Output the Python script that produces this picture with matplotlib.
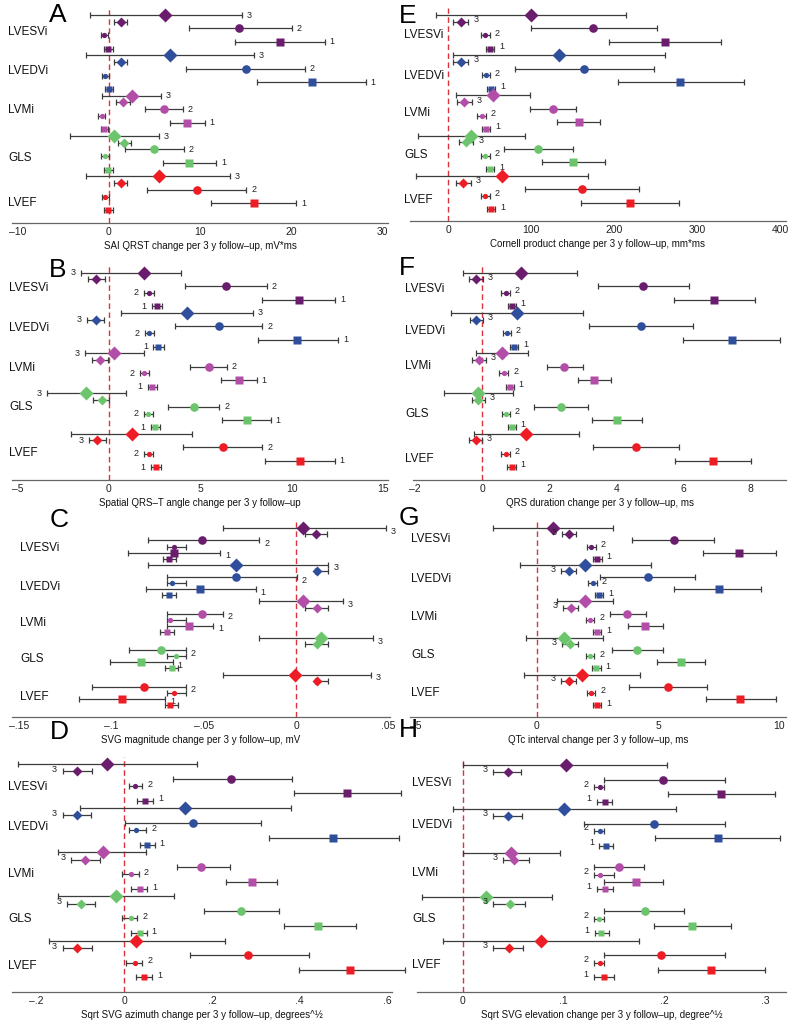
import matplotlib
matplotlib.use('Agg')
import matplotlib.pyplot as plt
from matplotlib.transforms import blended_transform_factory

plt.rcParams['font.family'] = ['Liberation Sans', 'DejaVu Sans']

# rows in each group: big 3, small 3, big 2, small 2, big 1, small 1
groups = ['LVESVi', 'LVEDVi', 'LVMi', 'GLS', 'LVEF']
group_colors = ['#6a1d6c', '#2f4e9c', '#b24ea8', '#6cc46c', '#ee1c25']
quintiles = [3, 3, 2, 2, 1, 1]

# A: SAI QRST
A_est = [6.2, 1.3, 14.3, -0.5, 18.8, -0.1,
         6.7, 1.3, 15.1, -0.4, 22.3, 0.0,
         2.5, 1.6, 6.0, -0.8, 8.6, -0.5,
         0.6, 1.7, 5.0, -0.45, 8.8, -0.1,
         5.5, 1.3, 9.7, -0.4, 15.9, -0.1]
A_lo = [-2.1, 0.6, 8.8, -0.9, 13.8, -0.5,
        -2.5, 0.6, 8.5, -0.8, 16.3, -0.4,
        -0.8, 0.8, 4.0, -1.2, 6.7, -0.9,
        -4.3, 0.95, 1.8, -0.9, 5.9, -0.5,
        -2.5, 0.6, 4.2, -0.8, 11.2, -0.5]
A_hi = [14.6, 2.0, 20.1, -0.1, 23.7, 0.4,
        15.9, 2.0, 21.5, 0.0, 28.2, 0.4,
        5.7, 2.3, 8.1, -0.4, 10.5, -0.1,
        5.5, 2.4, 8.2, 0.0, 11.8, 0.4,
        13.3, 2.0, 15.1, 0.0, 20.6, 0.4]

# B: spatial QRS-T angle
B_est = [1.94, -0.68, 6.41, 2.2, 10.4, 2.62,
         4.29, -0.71, 6.0, 2.22, 10.3, 2.71,
         0.29, -0.49, 5.46, 1.94, 7.1, 2.36,
         -1.26, -0.4, 4.63, 2.16, 7.56, 2.53,
         1.25, -0.64, 6.23, 2.18, 10.46, 2.56]
B_lo = [-1.5, -1.14, 4.18, 1.92, 8.39, 2.34,
        0.66, -1.19, 3.63, 1.96, 8.15, 2.44,
        -1.28, -0.95, 4.45, 1.7, 6.15, 2.12,
        -3.39, -0.86, 3.26, 1.92, 6.19, 2.29,
        -2.05, -1.1, 4.05, 1.92, 8.53, 2.29]
B_hi = [3.92, -0.22, 8.63, 2.47, 12.38, 2.89,
        7.88, -0.24, 8.39, 2.49, 12.55, 2.99,
        1.92, -0.04, 6.47, 2.22, 8.08, 2.62,
        0.92, 0.02, 6.04, 2.44, 8.85, 2.8,
        4.54, -0.18, 8.39, 2.44, 12.36, 2.84]

# C: SVG magnitude
C_est = [0.0036, 0.0108, -0.0511, -0.066, -0.066, -0.0688,
         -0.0327, 0.0116, -0.0325, -0.067, -0.052, -0.0688,
         0.004, 0.0116, -0.0511, -0.0682, -0.058, -0.07,
         0.0135, 0.0116, -0.0731, -0.065, -0.0839, -0.067,
         -0.0005, 0.0116, -0.0821, -0.066, -0.094, -0.0682]
C_lo = [-0.0397, 0.0049, -0.08, -0.07, -0.091, -0.0718,
        -0.08, 0.0103, -0.07, -0.07, -0.081, -0.0727,
        -0.0199, 0.0049, -0.07, -0.07, -0.07, -0.0736,
        -0.0199, 0.0049, -0.0903, -0.07, -0.101, -0.071,
        -0.0397, 0.0103, -0.1103, -0.07, -0.1173, -0.071]
C_hi = [0.0487, 0.017, -0.0199, -0.0597, -0.041, -0.0652,
        0.0175, 0.0175, 0.0004, -0.0597, -0.0217, -0.0652,
        0.0256, 0.0175, -0.0397, -0.0597, -0.0448, -0.066,
        0.0415, 0.0175, -0.0597, -0.0597, -0.0668, -0.0637,
        0.0404, 0.0175, -0.0597, -0.0597, -0.0709, -0.0637]

# D: sqrt SVG azimuth
D_est = [-0.039, -0.106, 0.244, 0.024, 0.507, 0.047,
         0.139, -0.108, 0.158, 0.028, 0.475, 0.053,
         -0.048, -0.088, 0.176, 0.017, 0.291, 0.036,
         -0.019, -0.099, 0.267, 0.017, 0.442, 0.036,
         0.028, -0.107, 0.282, 0.024, 0.515, 0.045]
D_lo = [-0.242, -0.140, 0.111, 0.011, 0.386, 0.030,
        -0.101, -0.140, 0.003, 0.011, 0.329, 0.036,
        -0.150, -0.120, 0.121, -0.004, 0.231, 0.017,
        -0.150, -0.129, 0.181, -0.004, 0.365, 0.017,
        -0.170, -0.140, 0.151, 0.005, 0.398, 0.028]
D_hi = [0.165, -0.073, 0.382, 0.042, 0.630, 0.066,
        0.380, -0.076, 0.312, 0.051, 0.625, 0.070,
        0.051, -0.055, 0.242, 0.034, 0.348, 0.053,
        0.113, -0.067, 0.352, 0.030, 0.527, 0.052,
        0.230, -0.074, 0.422, 0.042, 0.640, 0.064]

# E: Cornell product
E_est = [99.6, 15.3, 174.6, 44.4, 261.3, 50.4,
         133.9, 14.9, 163.3, 45.2, 279.4, 51.2,
         53.6, 19.0, 125.8, 40.3, 157.3, 45.2,
         27.4, 21.4, 108.0, 44.4, 150.0, 50.4,
         64.5, 18.1, 160.5, 44.4, 218.5, 51.2]
E_lo = [-15.3, 6.0, 99.6, 39.5, 193.5, 45.6,
        5.2, 6.0, 79.8, 40.3, 204.4, 46.4,
        9.3, 10.0, 98.8, 35.0, 131.0, 40.3,
        -36.3, 12.9, 66.5, 39.5, 112.9, 45.6,
        -39.1, 9.3, 91.9, 39.5, 159.3, 46.4]
E_hi = [213.7, 24.2, 250.8, 49.6, 328.6, 55.6,
        261.3, 24.2, 248.0, 50.4, 355.6, 56.5,
        98.0, 28.2, 153.2, 45.6, 182.7, 50.4,
        92.7, 30.2, 150.4, 49.6, 188.7, 55.6,
        168.1, 27.4, 229.8, 49.6, 278.2, 56.5]

# F: QRS duration
F_est = [1.15, -0.19, 4.79, 0.71, 6.9, 0.9,
         1.05, -0.17, 4.74, 0.73, 7.45, 0.95,
         0.58, -0.1, 2.45, 0.65, 3.34, 0.83,
         -0.12, -0.12, 2.34, 0.71, 4.01, 0.88,
         1.32, -0.19, 4.58, 0.7, 6.88, 0.88]
F_lo = [-0.57, -0.4, 3.45, 0.56, 5.71, 0.78,
        -0.92, -0.37, 3.2, 0.61, 6.0, 0.83,
        -0.17, -0.3, 1.92, 0.51, 2.85, 0.71,
        -1.14, -0.3, 1.55, 0.58, 3.27, 0.76,
        -0.25, -0.4, 3.32, 0.56, 5.76, 0.75]
F_hi = [2.84, 0.03, 6.16, 0.83, 8.13, 1.0,
        3.02, 0.03, 6.28, 0.85, 8.89, 1.08,
        1.37, 0.11, 3.0, 0.78, 3.84, 0.95,
        0.91, 0.08, 3.17, 0.83, 4.78, 1.0,
        2.9, 0.0, 5.86, 0.83, 8.02, 1.0]

# G: QTc interval
G_est = [0.66, 1.33, 5.64, 2.24, 8.35, 2.5,
         1.99, 1.31, 4.58, 2.3, 7.5, 2.57,
         1.99, 1.4, 3.74, 2.2, 4.47, 2.48,
         1.14, 1.38, 4.15, 2.2, 5.96, 2.45,
         1.86, 1.31, 5.41, 2.23, 8.39, 2.48]
G_lo = [-1.79, 1.03, 3.92, 2.06, 6.84, 2.31,
        -0.69, 1.0, 2.61, 2.1, 5.68, 2.41,
        0.83, 1.07, 3.0, 2.02, 3.78, 2.3,
        -0.45, 1.06, 3.12, 2.02, 4.95, 2.27,
        -0.52, 1.0, 3.81, 2.06, 6.99, 2.3]
G_hi = [3.16, 1.62, 7.33, 2.43, 9.86, 2.68,
        4.7, 1.62, 6.53, 2.48, 9.26, 2.75,
        3.16, 1.72, 4.5, 2.38, 5.19, 2.65,
        2.75, 1.68, 5.19, 2.38, 6.92, 2.64,
        4.26, 1.61, 7.02, 2.41, 9.86, 2.65]

# H: sqrt SVG elevation
H_est = [0.102, 0.0447, 0.199, 0.136, 0.2565, 0.141,
         0.1008, 0.0447, 0.1896, 0.1366, 0.2532, 0.1422,
         0.048, 0.051, 0.1548, 0.1366, 0.172, 0.141,
         0.0229, 0.0471, 0.1806, 0.1349, 0.2277, 0.1376,
         0.0779, 0.0461, 0.1969, 0.1366, 0.2466, 0.1399]
H_lo = [0.0, 0.0298, 0.14, 0.13, 0.204, 0.133,
        -0.0099, 0.0298, 0.12, 0.13, 0.1906, 0.1356,
        0.0, 0.0398, 0.13, 0.13, 0.14, 0.133,
        -0.0408, 0.0298, 0.14, 0.13, 0.19, 0.131,
        -0.0199, 0.0298, 0.14, 0.13, 0.1939, 0.13]
H_hi = [0.203, 0.0577, 0.26, 0.14, 0.31, 0.148,
        0.212, 0.0587, 0.26, 0.14, 0.3155, 0.1488,
        0.0961, 0.0653, 0.1803, 0.1498, 0.1989, 0.1488,
        0.0885, 0.0613, 0.22, 0.14, 0.2668, 0.1455,
        0.1753, 0.0597, 0.26, 0.14, 0.30, 0.1498]

x_labels = {
    'A': 'SAI QRST change per 3 y follow\u2013up, mV*ms',
    'B': 'Spatial QRS\u2013T angle change per 3 y follow\u2013up',
    'C': 'SVG magnitude change per 3 y follow\u2013up, mV',
    'D': 'Sqrt SVG azimuth change per 3 y follow\u2013up, degrees^\u00bd',
    'E': 'Cornell product change per 3 y follow\u2013up, mm*ms',
    'F': 'QRS duration change per 3 y follow\u2013up, ms',
    'G': 'QTc interval change per 3 y follow\u2013up, ms',
    'H': 'Sqrt SVG elevation change per 3 y follow\u2013up, degree^\u00bd',
}
x_ticks = {
    'A': [-10, 0, 10, 20, 30], 'B': [-5, 0, 5, 10, 15],
    'C': [-0.15, -0.1, -0.05, 0, 0.05], 'D': [-0.2, 0, 0.2, 0.4, 0.6],
    'E': [0, 100, 200, 300, 400], 'F': [-2, 0, 2, 4, 6, 8],
    'G': [-5, 0, 5, 10], 'H': [0, 0.1, 0.2, 0.3],
}
x_ticklabels = {
    'A': ['\u201310', '0', '10', '20', '30'], 'B': ['\u20135', '0', '5', '10', '15'],
    'C': ['\u2013.15', '\u2013.1', '\u2013.05', '0', '.05'],
    'D': ['\u2013.2', '0', '.2', '.4', '.6'],
    'E': ['0', '100', '200', '300', '400'], 'F': ['\u20132', '0', '2', '4', '6', '8'],
    'G': ['\u20135', '0', '5', '10'], 'H': ['0', '.1', '.2', '.3'],
}

W, H = 797, 1026
fig = plt.figure(figsize=(W / 100, H / 100), dpi=100)

# layout in pixels: x left, x right, first row y, last row y, axis line y, xlim,
# group label x, group label rows, number label sides, number label dy, letter pos
layout = {
    'A': (12, 388, 15, 210, 222.5, (-10.65, 30.66), 8, [2.5, 8.4, 14.1, 21.3, 28.0],
          'r.r.r.' * 5, 0.0, (49, 3)),
    'B': (12, 388, 272.7, 467.3, 479.5, (-5.3, 15.27), 9, [2.3, 8.3, 14.2, 20.0, 26.9],
          'l.rlrl' + 'rlrlrl' + 'l.rlrl' + 'l.rlrl' + '.lrlrl', 0.0, (49, 258)),
    'C': (12, 390, 528.3, 705, 716.7, (-0.1538, 0.0509), 20, [3.2, 9.7, 15.6, 21.5, 27.7],
          'r.r.r.' * 5, 0.5, (50, 508)),
    'D': (12, 392, 764, 977.3, 991.7, (-0.255, 0.61), 8, [3.1, 8.5, 14.9, 21.1, 27.5],
          '.l.r.r' * 5, -0.25, (50, 720)),
    'E': (410, 786, 15, 209.3, 220.7, (-46.2, 406.8), 404, [3.0, 9.1, 14.6, 20.9, 27.6],
          '.r.r.r' * 5, -0.3, (399, 4)),
    'F': (413, 786, 272.7, 467.3, 479.5, (-2.06, 9.06), 405, [2.5, 8.7, 13.9, 21.0, 27.8],
          '.r.r.r' * 5, -0.35, (399, 256)),
    'G': (410, 786, 528.3, 705, 716.7, (-5.23, 10.28), 411, [1.8, 8.4, 14.5, 20.8, 27.1],
          '.l.r.r' * 5, -0.3, (399, 506)),
    'H': (417, 786, 765, 977.3, 991.7, (-0.0457, 0.321), 412, [2.5, 8.2, 14.8, 21.1, 27.3],
          '.l.l.l' * 5, -0.4, (399, 718)),
}
panel_data = {
    'A': (A_est, A_lo, A_hi), 'B': (B_est, B_lo, B_hi),
    'C': (C_est, C_lo, C_hi), 'D': (D_est, D_lo, D_hi),
    'E': (E_est, E_lo, E_hi), 'F': (F_est, F_lo, F_hi),
    'G': (G_est, G_lo, G_hi), 'H': (H_est, H_lo, H_hi),
}

shapes = ['D', 'D', 'o', 'o', 's', 's']
msizes = [7.0, 4.6, 6.2, 3.8, 6.0, 4.0]
bar_col = '#3c3c3c'


def draw_panel(key):
    xl, xr, row0, row29, axis_y, xlim, gx, grows, sides, dy, letter = layout[key]
    est, lo, hi = panel_data[key]
    s = (row29 - row0) / 29.0
    top = row0 - s
    ax = fig.add_axes([xl / W, 1 - axis_y / H, (xr - xl) / W, (axis_y - top) / H])
    ax.set_ylim(29 + (axis_y - row29) / s, -1)
    ax.set_xlim(*xlim)

    ax.axvline(0, color='#d8343c', lw=1.0, ls=(0, (4, 2.5)), zorder=1)

    for i in range(len(est)):
        g = i // 6
        k = i % 6
        ax.errorbar(est[i], i, xerr=[[est[i] - lo[i]], [hi[i] - est[i]]], fmt='none',
                    ecolor=bar_col, elinewidth=0.9, capsize=2.2, capthick=0.9,
                    zorder=2, clip_on=False)
        ax.plot(est[i], i, marker=shapes[k], ms=msizes[k], color=group_colors[g],
                mec='none', ls='none', zorder=3, clip_on=False)
        side = sides[i]
        if side == 'r':
            ax.annotate(str(quintiles[k]), xy=(hi[i], i + dy), xytext=(3.5, 0),
                        textcoords='offset points', ha='left', va='center',
                        fontsize=6.5, color='#222222', annotation_clip=False)
        elif side == 'l':
            ax.annotate(str(quintiles[k]), xy=(lo[i], i + dy), xytext=(-4, 0),
                        textcoords='offset points', ha='right', va='center',
                        fontsize=6.5, color='#222222', annotation_clip=False)

    trans = blended_transform_factory(ax.transAxes, ax.transData)
    for name, r in zip(groups, grows):
        ax.text((gx - xl) / (xr - xl), r, name, transform=trans, ha='left',
                va='center', fontsize=8.5, color='#111111', clip_on=False)

    for sp in ['top', 'right', 'left']:
        ax.spines[sp].set_visible(False)
    ax.spines['bottom'].set_color('#666666')
    ax.spines['bottom'].set_linewidth(0.9)
    ax.set_yticks([])
    ax.set_xticks(x_ticks[key])
    ax.set_xticklabels(x_ticklabels[key])
    ax.tick_params(axis='x', length=0, pad=3, labelsize=7.5, labelcolor='#222222')
    ax.set_xlabel(x_labels[key], fontsize=7, labelpad=3, color='#111111')
    ax.patch.set_alpha(0)

    fig.text(letter[0] / W, 1 - letter[1] / H, key, fontsize=19, ha='left', va='top')


for key in 'ABCDEFGH':
    draw_panel(key)

fig.savefig('out.png', dpi=100)
